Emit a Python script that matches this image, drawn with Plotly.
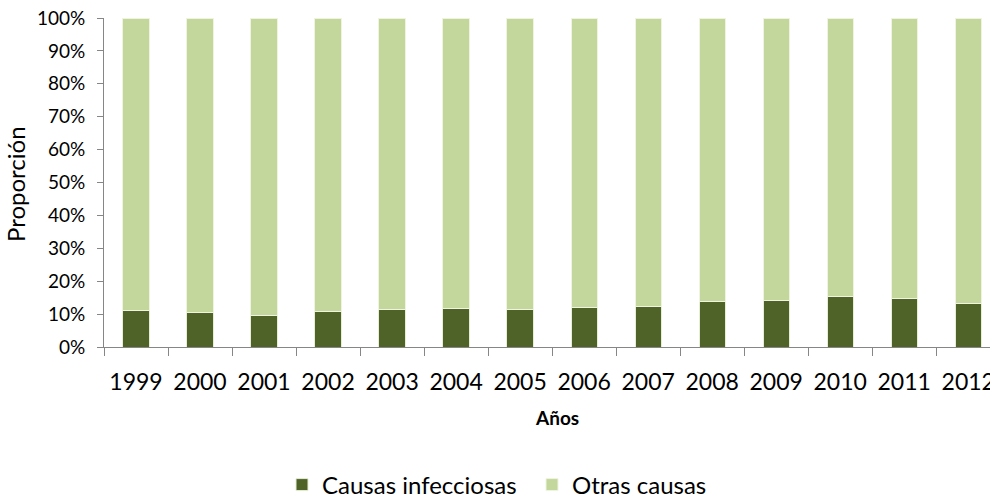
import plotly.graph_objects as go

years = ["1999", "2000", "2001", "2002", "2003", "2004", "2005",
         "2006", "2007", "2008", "2009", "2010", "2011", "2012"]
infecciosas = [11.2, 10.4, 9.7, 10.9, 11.5, 11.8, 11.3,
               12.1, 12.4, 13.7, 14.2, 15.4, 14.8, 13.3]
otras = [round(100 - v, 1) for v in infecciosas]

FONT = "Lato, 'Open Sans', sans-serif"
AXIS_COLOR = "#868686"
L, R, T, B = 104, 0, 18, 151
PW = 990 - L - R
PH = 498 - T - B

fig = go.Figure()
fig.add_trace(go.Bar(x=years, y=infecciosas, name="Causas infecciosas",
                     marker=dict(color="#4F6228", line=dict(color="#E6EED5", width=1))))
fig.add_trace(go.Bar(x=years, y=otras, name="Otras causas",
                     marker=dict(color="#C3D69B", line=dict(color="#EEF4E0", width=1))))

fig.update_layout(
    barmode="stack",
    bargap=0.59,
    width=990, height=498, autosize=False,
    margin=dict(l=L, r=R, t=T, b=B, autoexpand=False),
    plot_bgcolor="white", paper_bgcolor="white",
    font=dict(family=FONT, color="#000000"),
    showlegend=True,
    legend=dict(orientation="h", x=(282 - L) / PW, xanchor="left",
                y=(T + PH - 485) / PH, yanchor="middle", entrywidth=205,
                font=dict(size=24, family=FONT), itemwidth=30, traceorder="normal"),
    xaxis=dict(type="category", range=[-0.5, 13.34], showline=True, linecolor=AXIS_COLOR,
               linewidth=1, ticks="outside", tickson="boundaries", ticklen=8,
               tickcolor=AXIS_COLOR, tickfont=dict(size=23, family=FONT), showgrid=False,
               automargin=False, ticklabelstandoff=14),
    yaxis=dict(range=[0, 100], tickvals=list(range(0, 101, 10)),
               ticktext=[f"{v}%" for v in range(0, 101, 10)], showline=True,
               linecolor=AXIS_COLOR, linewidth=1, ticks="outside", ticklen=6,
               tickcolor=AXIS_COLOR, tickfont=dict(size=19, family=FONT),
               showgrid=False, zeroline=False, automargin=False, ticklabelstandoff=8),
    annotations=[
        dict(text="<b>Años</b>", xref="paper", yref="paper", x=(557 - L) / PW,
             y=(T + PH - 417) / PH, xanchor="center", yanchor="middle", showarrow=False,
             font=dict(size=19, family=FONT)),
        dict(text="Proporción", xref="paper", yref="paper", x=(15 - L) / PW,
             y=(T + PH - 184) / PH, xanchor="center", yanchor="middle", textangle=-90,
             showarrow=False, font=dict(size=24, family=FONT)),
    ],
)

post = ("document.documentElement.style.margin='0';document.body.style.margin='0';"
        "document.body.style.padding='0';document.body.style.overflow='hidden';"
        "document.documentElement.style.overflow='hidden';")
fig.write_html("out.html", post_script=post, config={"displayModeBar": False})
